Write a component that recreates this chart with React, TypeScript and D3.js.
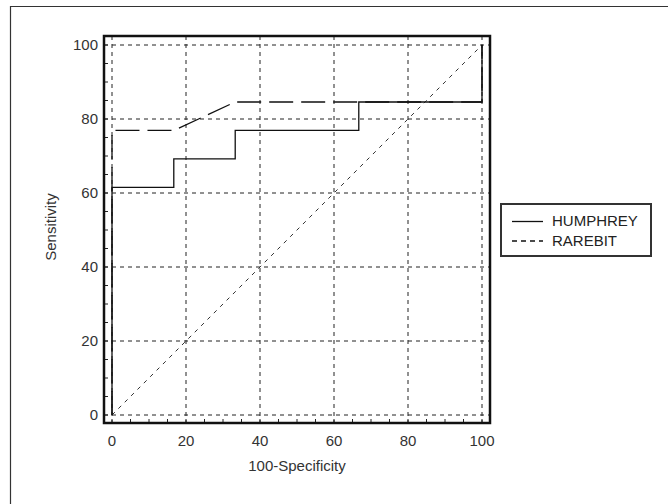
import React from 'react'
import * as d3 from 'd3'

// ROC curve points (100-Specificity, Sensitivity)
const humphreyX = [0, 0, 16.7, 16.7, 33.3, 33.3, 66.7, 66.7, 100, 100]
const humphreyY = [0, 61.5, 61.5, 69.2, 69.2, 76.9, 76.9, 84.6, 84.6, 100]
const rarebitX = [0, 0, 16.7, 33.3, 100, 100]
const rarebitY = [0, 76.9, 76.9, 84.6, 84.6, 100]
const tickValues = [0, 20, 40, 60, 80, 100]
const minorTicks = d3.range(0, 101, 5)
const seriesNames = ['HUMPHREY', 'RAREBIT']

const x = d3.scaleLinear().domain([0, 100]).range([112, 482])
const y = d3.scaleLinear().domain([0, 100]).range([415, 45])

const frame = { left: 104, top: 36, right: 490, bottom: 423 }
const font = 'Arial, "Liberation Sans", sans-serif'

const App = () => {
  const line = d3.line<[number, number]>().x(d => x(d[0])).y(d => y(d[1]))
  const humphrey = line(humphreyX.map((v, i) => [v, humphreyY[i]]))
  const rarebit = line(rarebitX.map((v, i) => [v, rarebitY[i]]))

  return (
    <svg width={668} height={504} style={{ position: 'absolute', left: 0, top: 0, background: '#fff' }}>
      {/* outer page frame */}
      <path d="M10.5,504 V6.5 H668" fill="none" stroke="#333" strokeWidth={1.2} />

      {/* grid */}
      {tickValues.map(t => (
        <g key={'g' + t}>
          <line x1={x(t)} x2={x(t)} y1={frame.top} y2={frame.bottom} stroke="#222" strokeWidth={1} strokeDasharray="4,4" />
          <line x1={frame.left} x2={frame.right} y1={y(t)} y2={y(t)} stroke="#222" strokeWidth={1} strokeDasharray="4,4" />
        </g>
      ))}

      {/* minor ticks inside frame */}
      {minorTicks.map(t => (
        <g key={'m' + t}>
          <line x1={frame.left} x2={frame.left + 4} y1={y(t)} y2={y(t)} stroke="#222" strokeWidth={1} />
          <line x1={x(t)} x2={x(t)} y1={frame.bottom} y2={frame.bottom - 4} stroke="#222" strokeWidth={1} />
        </g>
      ))}

      {/* reference diagonal */}
      <line x1={x(0)} y1={y(0)} x2={x(100)} y2={y(100)} stroke="#333" strokeWidth={1} strokeDasharray="4,5" />

      <path d={rarebit || ''} fill="none" stroke="#111" strokeWidth={1.3} strokeDasharray="24,8" />
      <path d={humphrey || ''} fill="none" stroke="#111" strokeWidth={1.3} />

      <rect x={frame.left} y={frame.top} width={frame.right - frame.left} height={frame.bottom - frame.top}
        fill="none" stroke="#111" strokeWidth={2.5} />

      {/* tick labels */}
      {tickValues.map(t => (
        <g key={'l' + t} fontFamily={font} fontSize={15} fill="#333">
          <text x={98} y={y(t) + 5} textAnchor="end">{t}</text>
          <text x={x(t)} y={446} textAnchor="middle">{t}</text>
        </g>
      ))}

      <text x={297} y={471} textAnchor="middle" fontFamily={font} fontSize={15} fill="#333">100-Specificity</text>
      <text transform="translate(56,227) rotate(-90)" textAnchor="middle" fontFamily={font} fontSize={15} fill="#333">Sensitivity</text>

      {/* legend */}
      <rect x={501} y={204} width={150} height={52} fill="#fff" stroke="#333" strokeWidth={2} />
      <line x1={512} x2={543} y1={221.5} y2={221.5} stroke="#111" strokeWidth={1.3} />
      <line x1={512} x2={543} y1={241} y2={241} stroke="#111" strokeWidth={1.3} strokeDasharray="5,4" />
      {seriesNames.map((n, i) => (
        <text key={n} x={552} y={226 + i * 20} fontFamily={font} fontSize={15} fill="#222">{n}</text>
      ))}
    </svg>
  )
}

export default App
